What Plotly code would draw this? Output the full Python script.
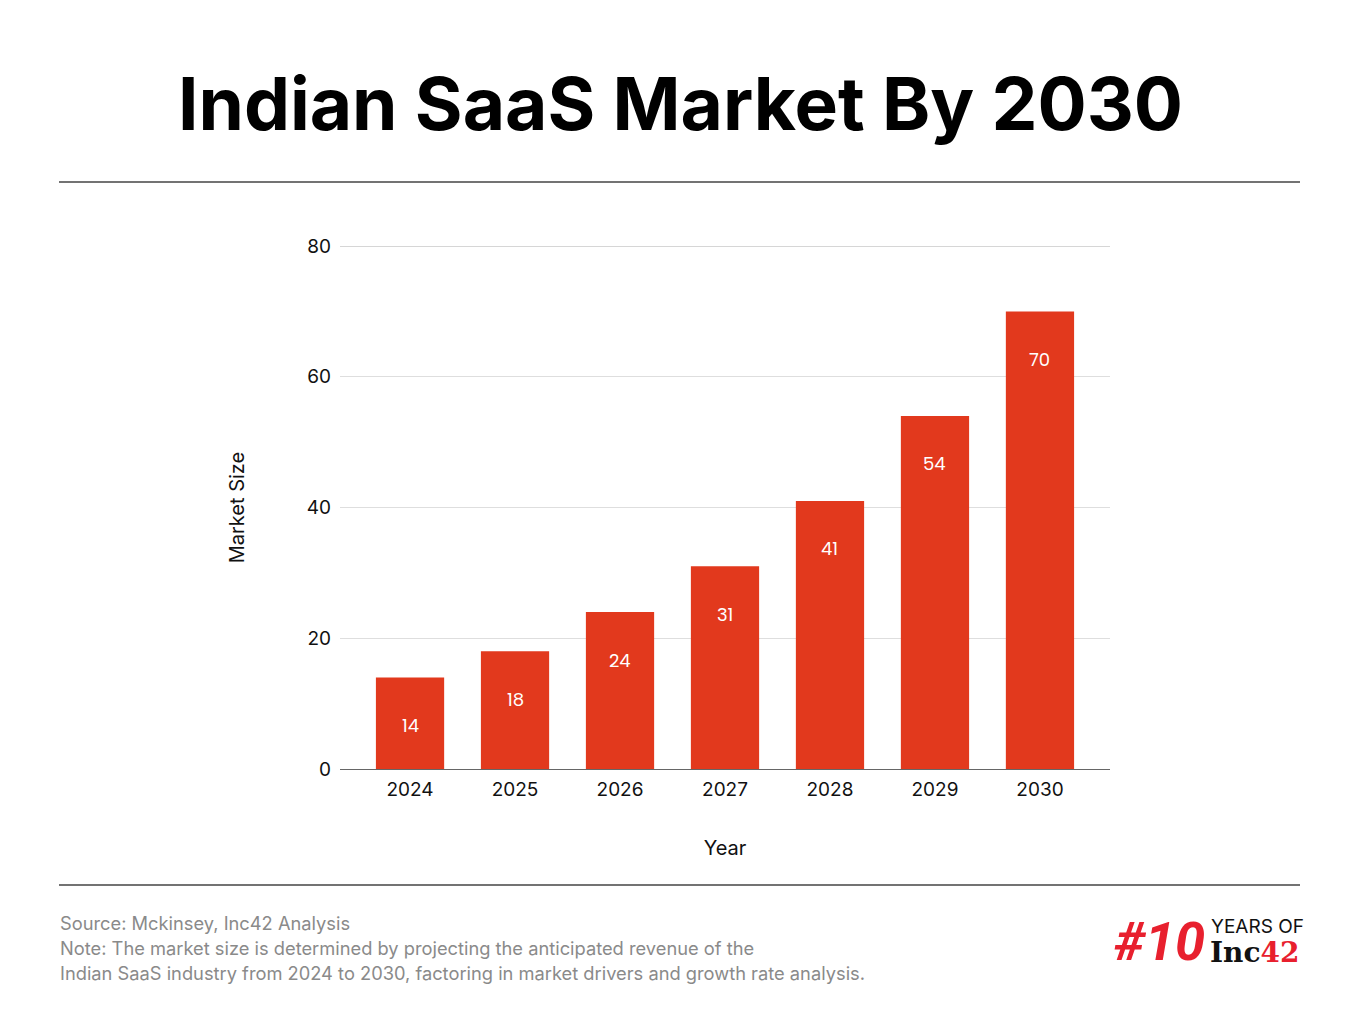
import plotly.graph_objects as go

years = ["2024", "2025", "2026", "2027", "2028", "2029", "2030"]
market_size = [14, 18, 24, 31, 41, 54, 70]
y_ticks = [0, 20, 40, 60, 80]

title_text = "Indian SaaS Market By 2030"
source_lines = [
    "Source: Mckinsey, Inc42 Analysis",
    "Note: The market size is determined by projecting the anticipated revenue of the",
    "Indian SaaS industry from 2024 to 2030, factoring in market drivers and growth rate analysis.",
]

RED = "#E2391D"
W, H = 1360, 1020
# plot area in screenshot pixels: x 340..1110, y 246..769 (page has 8px body margin)
PX0, PX1, PY0, PY1 = 340, 1110, 246, 769
L, R, T, B = PX0 - 8, W - (PX1 - 8), PY0 - 8, H - (PY1 - 8)

def px(x):
    return (x - PX0) / (PX1 - PX0)

def py(y):
    return (PY1 - y) / (PY1 - PY0)

fig = go.Figure()
fig.add_trace(go.Bar(
    x=years, y=market_size, marker=dict(color=RED, line=dict(width=0)),
    width=0.65, hoverinfo="skip",
))

for i, v in enumerate(market_size):
    fig.add_annotation(x=i, y=v, text=str(v), showarrow=False, yshift=-48,
                       font=dict(family="Poppins, Inter, sans-serif", size=18, color="white"))

fig.update_layout(
    width=W, height=H, paper_bgcolor="white", plot_bgcolor="white",
    margin=dict(l=L, r=R, t=T, b=B), showlegend=False,
    font=dict(family="Inter, sans-serif", color="#111"),
    xaxis=dict(type="category", range=[-0.667, 6.667], showgrid=False,
               showline=True, linecolor="#666", linewidth=1, ticks="",
               ticklabelstandoff=3,
               tickfont=dict(size=19, color="#111"),
               title=dict(text="Year", font=dict(size=20, color="#111"), standoff=41)),
    yaxis=dict(range=[0, 80], tickvals=y_ticks, showgrid=True, gridcolor="#dedede",
               gridwidth=1, zeroline=False, showline=False, ticks="",
               ticklabelstandoff=8,
               tickfont=dict(size=19, color="#111"),
               title=dict(text="Market Size", font=dict(size=20, color="#111"), standoff=56)),
    bargap=0.35,
)

# top gridline (plotly drops the gridline lying on the plot edge)
fig.add_shape(type="line", xref="paper", yref="y", x0=0, x1=1, y0=y_ticks[-1], y1=y_ticks[-1],
              line=dict(color="#d6d6d6", width=2), layer="below")

fig.add_annotation(xref="paper", yref="paper", x=px(680), y=py(103), text=f"<b>{title_text}</b>",
                   showarrow=False, xanchor="center", yanchor="middle",
                   font=dict(family="Inter, sans-serif", size=73, color="#000"))

for yl in (182, 885):
    fig.add_shape(type="line", xref="paper", yref="paper", x0=px(59), x1=px(1300),
                  y0=py(yl), y1=py(yl), line=dict(color="#444", width=1.5))

for i, line in enumerate(source_lines):
    fig.add_annotation(xref="paper", yref="paper", x=px(58), y=py(923 + 25 * i), text=line,
                       showarrow=False, xanchor="left", yanchor="middle",
                       font=dict(family="Inter, sans-serif", size=18.3, color="#8a8a8a"))

# logo
fig.add_annotation(xref="paper", yref="paper", x=px(1207), y=py(941), text="<b><i>#10</i></b>",
                   showarrow=False, xanchor="right", yanchor="middle",
                   font=dict(family="Liberation Sans Narrow, Roboto, sans-serif", size=54, color="#E8202E"))
fig.add_annotation(xref="paper", yref="paper", x=px(1209), y=py(926), text="YEARS OF",
                   showarrow=False, xanchor="left", yanchor="middle",
                   font=dict(family="Inter, sans-serif", size=19, color="#111"))
fig.add_annotation(xref="paper", yref="paper", x=px(1208), y=py(952),
                   text="<b>Inc</b><b><span style='color:#E8202E'>42</span></b>",
                   showarrow=False, xanchor="left", yanchor="middle",
                   font=dict(family="DejaVu Serif, serif", size=28, color="#111"))

fig.write_html("out.html")
